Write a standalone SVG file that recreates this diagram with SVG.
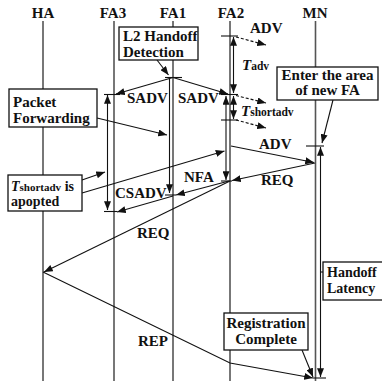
<svg xmlns="http://www.w3.org/2000/svg" width="382" height="383" viewBox="0 0 382 383">
<style>
text{font-family:"Liberation Serif","Times New Roman",serif;font-weight:bold;font-size:15px;fill:#111}
.sub{font-size:11.5px}
.it{font-style:italic}
.sm{font-size:14px}
.sm .sub{font-size:11px}
.life{stroke:#555;stroke-width:1.6;fill:none}
.ln{stroke:#111;stroke-width:1.1;fill:none}
.dash{stroke:#111;stroke-width:1.1;fill:none;stroke-dasharray:3 2}
.box{fill:#fff;stroke:#111;stroke-width:1.3}
</style>
<defs>
<marker id="ah" viewBox="0 0 10 8" refX="10" refY="4" markerWidth="9" markerHeight="7" markerUnits="userSpaceOnUse" orient="auto-start-reverse">
<path d="M0,0 L10,4 L0,8 z" fill="#111"/>
</marker>
</defs>
<g id="lifelines">
<line class="life" x1="43" y1="21" x2="43" y2="381"/>
<line class="life" x1="114" y1="21" x2="114" y2="381"/>
<line class="life" x1="173" y1="21" x2="173" y2="381"/>
<line class="life" x1="230" y1="21" x2="230" y2="381"/>
<line class="life" x1="315.5" y1="21" x2="315.5" y2="381"/>
</g>
<g id="headers">
<text x="43" y="18" text-anchor="middle">HA</text>
<text x="113" y="18" text-anchor="middle">FA3</text>
<text x="173" y="18" text-anchor="middle">FA1</text>
<text x="231" y="18" text-anchor="middle">FA2</text>
<text x="315" y="18" text-anchor="middle">MN</text>
</g>
<g id="connectors">
<line class="ln" x1="157" y1="60" x2="168.5" y2="75" marker-end="url(#ah)"/>
<line class="ln" x1="173" y1="77.5" x2="116" y2="94" marker-end="url(#ah)"/>
<line class="ln" x1="173" y1="77.5" x2="228" y2="94" marker-end="url(#ah)"/>
<line class="ln" x1="97" y1="118" x2="167" y2="135" marker-end="url(#ah)"/>
<line class="ln" x1="107.5" y1="95" x2="107.5" y2="210" marker-start="url(#ah)" marker-end="url(#ah)"/>
<line class="ln" x1="169.5" y1="78" x2="169.5" y2="193" marker-end="url(#ah)"/>
<line class="ln" x1="233.5" y1="37" x2="233.5" y2="93" marker-start="url(#ah)" marker-end="url(#ah)"/>
<line class="ln" x1="233.5" y1="96" x2="233.5" y2="119" marker-start="url(#ah)" marker-end="url(#ah)"/>
<line class="ln" x1="226" y1="96" x2="226" y2="180" marker-start="url(#ah)" marker-end="url(#ah)"/>
<line class="ln" x1="82" y1="180" x2="105" y2="172" marker-end="url(#ah)"/>
<line class="ln" x1="82" y1="193" x2="224.5" y2="151" marker-end="url(#ah)"/>
<line class="ln" x1="231" y1="146" x2="314" y2="162.5" marker-end="url(#ah)"/>
<line class="ln" x1="315" y1="163" x2="232" y2="180.5" marker-end="url(#ah)"/>
<line class="ln" x1="229" y1="181" x2="176" y2="195" marker-end="url(#ah)"/>
<line class="ln" x1="173" y1="196" x2="117" y2="212" marker-end="url(#ah)"/>
<line class="ln" x1="230" y1="181" x2="44" y2="272" marker-end="url(#ah)"/>
<polyline class="ln" points="43,272 230,363 313,378" marker-end="url(#ah)"/>
<line class="ln" x1="333" y1="100" x2="322" y2="143" marker-end="url(#ah)"/>
<line class="ln" x1="320.5" y1="147" x2="320.5" y2="377" marker-start="url(#ah)" marker-end="url(#ah)"/>
<line class="ln" x1="302" y1="350" x2="313" y2="377" marker-end="url(#ah)"/>
<line class="ln" x1="320.5" y1="272" x2="323" y2="272"/>
<line class="dash" x1="236" y1="37" x2="266" y2="45" marker-end="url(#ah)"/>
<line class="dash" x1="236" y1="95.5" x2="266" y2="103" marker-end="url(#ah)"/>
<line class="dash" x1="236" y1="120" x2="266" y2="128" marker-end="url(#ah)"/>
<g id="ticks">
<line class="ln" x1="165" y1="77.5" x2="182" y2="77.5"/>
<line class="ln" x1="104" y1="94.5" x2="120" y2="94.5"/>
<line class="ln" x1="104" y1="211.5" x2="117" y2="211.5"/>
<line class="ln" x1="165" y1="195" x2="176" y2="195"/>
<line class="ln" x1="221" y1="36" x2="238" y2="36"/>
<line class="ln" x1="221" y1="94.5" x2="238" y2="94.5"/>
<line class="ln" x1="221" y1="120" x2="238" y2="120"/>
<line class="ln" x1="221" y1="181" x2="232" y2="181"/>
<line class="ln" x1="306" y1="146" x2="324" y2="146"/>
<line class="ln" x1="313" y1="378" x2="326" y2="378"/>
</g>
</g>
<g id="labels">
<text x="127" y="103">SADV</text>
<text x="178" y="103">SADV</text>
<text x="115" y="198">CSADV</text>
<text x="184" y="182">NFA</text>
<text x="250" y="33">ADV</text>
<text x="259" y="149">ADV</text>
<text x="261" y="185">REQ</text>
<text x="137" y="238">REQ</text>
<text x="138" y="346">REP</text>
<text x="242" y="69.5"><tspan class="it">T</tspan><tspan class="sub">adv</tspan></text>
<text x="241" y="116"><tspan class="it">T</tspan><tspan class="sub">shortadv</tspan></text>
</g>
<g id="node-l2">
<rect class="box" x="119" y="27" width="79" height="33"/>
<text x="123" y="40.5">L2 Handoff</text>
<text x="123" y="57">Detection</text>
</g>
<g id="node-packet">
<rect class="box" x="9" y="89" width="88" height="38"/>
<text x="13" y="107">Packet</text>
<text x="13" y="123">Forwarding</text>
</g>
<g id="node-tshort">
<rect class="box" x="8" y="175" width="74" height="36"/>
<text class="sm" x="11" y="190.5"><tspan class="it">T</tspan><tspan class="sub">shortadv</tspan> is</text>
<text class="sm" x="11" y="206">apopted</text>
</g>
<g id="node-enter">
<rect class="box" x="277" y="67" width="101" height="33"/>
<text x="327.5" y="80" text-anchor="middle">Enter the area</text>
<text x="327.5" y="95" text-anchor="middle">of new FA</text>
</g>
<g id="node-handoff">
<rect class="box" x="323" y="262" width="62" height="38"/>
<text class="sm" x="327" y="277">Handoff</text>
<text class="sm" x="327" y="293">Latency</text>
</g>
<g id="node-reg">
<rect class="box" x="224" y="313" width="84" height="37"/>
<text x="266" y="328" text-anchor="middle">Registration</text>
<text x="266" y="344" text-anchor="middle">Complete</text>
</g>
</svg>
